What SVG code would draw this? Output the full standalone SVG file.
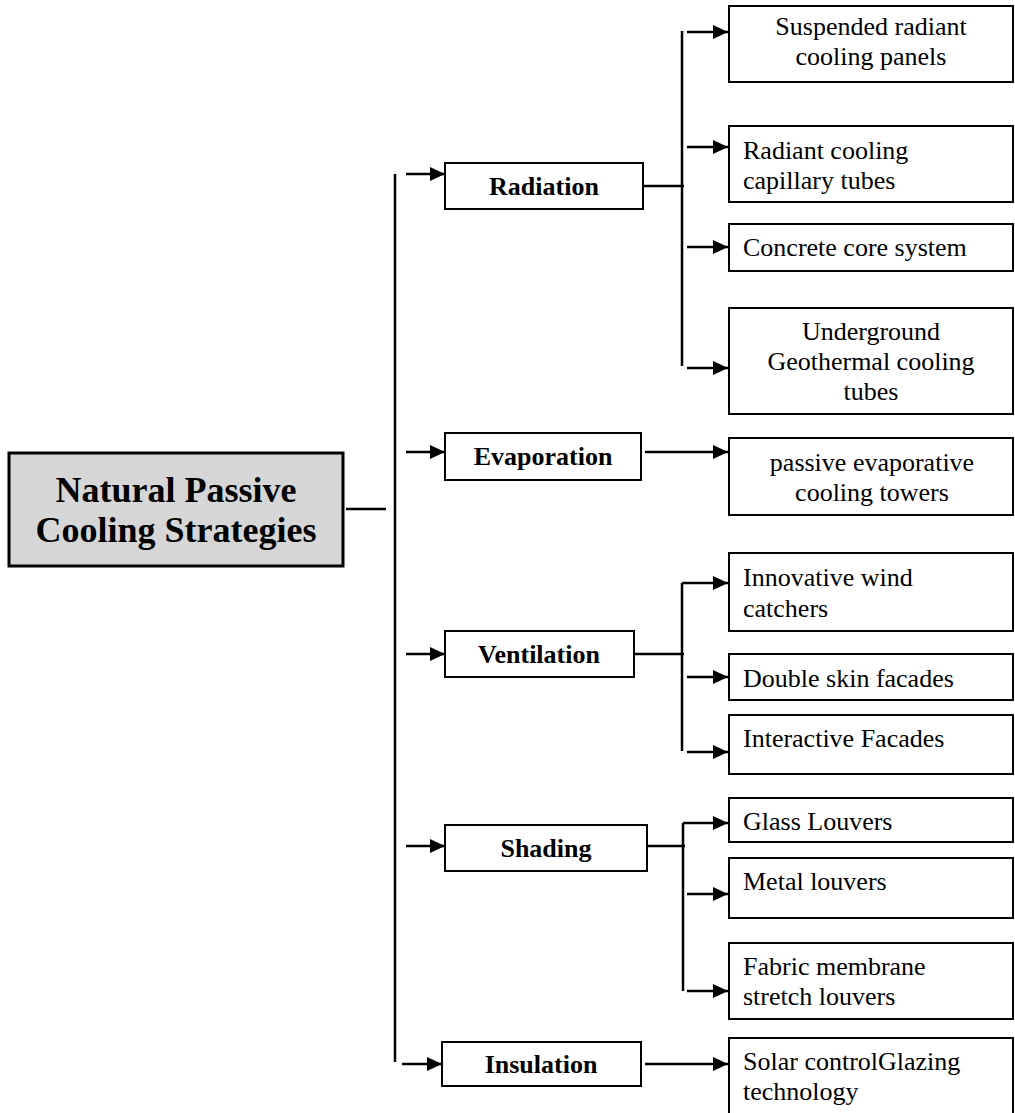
<svg xmlns="http://www.w3.org/2000/svg" width="1015" height="1113" viewBox="0 0 1015 1113">
<style>
.box{fill:#fff;stroke:#000;stroke-width:2}
.main{fill:#d6d6d6;stroke:#000;stroke-width:3}
.ln{stroke:#000;stroke-width:2.5;fill:none}
.t{font-family:"Liberation Serif","Times New Roman",serif;font-size:26px;fill:#000}
.b{font-weight:bold}
.c{text-anchor:middle}
.m{font-family:"Liberation Serif","Times New Roman",serif;font-size:36px;font-weight:bold;text-anchor:middle;fill:#000}
</style>
<defs>
<marker id="ah" markerUnits="userSpaceOnUse" markerWidth="16" markerHeight="14" refX="15" refY="7" orient="auto">
<path d="M0,0 L15,7 L0,14 z" fill="#000"/>
</marker>
</defs>
<rect width="1015" height="1113" fill="#fff"/>
<g id="connectors">
<line class="ln" x1="346" y1="509" x2="386" y2="509"/>
<line class="ln" x1="395" y1="174" x2="395" y2="1062"/>
<line class="ln" x1="406" y1="174" x2="445" y2="174" marker-end="url(#ah)"/>
<line class="ln" x1="406" y1="452" x2="445" y2="452" marker-end="url(#ah)"/>
<line class="ln" x1="406" y1="654" x2="445" y2="654" marker-end="url(#ah)"/>
<line class="ln" x1="406" y1="846" x2="445" y2="846" marker-end="url(#ah)"/>
<line class="ln" x1="402" y1="1064" x2="442" y2="1064" marker-end="url(#ah)"/>
<line class="ln" x1="643" y1="186" x2="684" y2="186"/>
<line class="ln" x1="682" y1="31" x2="682" y2="366"/>
<line class="ln" x1="687" y1="32" x2="728" y2="32" marker-end="url(#ah)"/>
<line class="ln" x1="687" y1="147" x2="728" y2="147" marker-end="url(#ah)"/>
<line class="ln" x1="687" y1="247" x2="728" y2="247" marker-end="url(#ah)"/>
<line class="ln" x1="687" y1="368" x2="728" y2="368" marker-end="url(#ah)"/>
<line class="ln" x1="645" y1="452" x2="728" y2="452" marker-end="url(#ah)"/>
<line class="ln" x1="634" y1="654" x2="684" y2="654"/>
<line class="ln" x1="682" y1="583" x2="682" y2="751"/>
<line class="ln" x1="682" y1="583" x2="728" y2="583" marker-end="url(#ah)"/>
<line class="ln" x1="687" y1="677" x2="728" y2="677" marker-end="url(#ah)"/>
<line class="ln" x1="687" y1="752" x2="728" y2="752" marker-end="url(#ah)"/>
<line class="ln" x1="647" y1="846" x2="685" y2="846"/>
<line class="ln" x1="683" y1="823" x2="683" y2="991"/>
<line class="ln" x1="683" y1="823" x2="728" y2="823" marker-end="url(#ah)"/>
<line class="ln" x1="687" y1="894" x2="728" y2="894" marker-end="url(#ah)"/>
<line class="ln" x1="687" y1="991" x2="728" y2="991" marker-end="url(#ah)"/>
<line class="ln" x1="645" y1="1064" x2="728" y2="1064" marker-end="url(#ah)"/>
</g>
<g id="main">
<rect class="main" x="9" y="453" width="334" height="113"/>
<text class="m" x="176" y="502">Natural Passive</text>
<text class="m" x="176" y="542">Cooling Strategies</text>
</g>
<g id="radiation">
<rect class="box" x="445" y="163" width="198" height="46"/>
<text class="t b c" x="544" y="195">Radiation</text>
</g>
<g id="evaporation">
<rect class="box" x="445" y="433" width="196" height="47"/>
<text class="t b c" x="543" y="465">Evaporation</text>
</g>
<g id="ventilation">
<rect class="box" x="445" y="631" width="189" height="46"/>
<text class="t b c" x="539" y="663">Ventilation</text>
</g>
<g id="shading">
<rect class="box" x="445" y="825" width="202" height="46"/>
<text class="t b c" x="546" y="857">Shading</text>
</g>
<g id="insulation">
<rect class="box" x="442" y="1042" width="199" height="44"/>
<text class="t b c" x="541" y="1073">Insulation</text>
</g>
<g id="suspended">
<rect class="box" x="729" y="6" width="284" height="76"/>
<text class="t c" x="871" y="35">Suspended radiant</text>
<text class="t c" x="871" y="65">cooling panels</text>
</g>
<g id="capillary">
<rect class="box" x="729" y="126" width="284" height="76"/>
<text class="t" x="743" y="159">Radiant cooling</text>
<text class="t" x="743" y="189">capillary tubes</text>
</g>
<g id="concrete">
<rect class="box" x="729" y="224" width="284" height="47"/>
<text class="t" x="743" y="256">Concrete core system</text>
</g>
<g id="underground">
<rect class="box" x="729" y="308" width="284" height="106"/>
<text class="t c" x="871" y="340">Underground</text>
<text class="t c" x="871" y="370">Geothermal cooling</text>
<text class="t c" x="871" y="400">tubes</text>
</g>
<g id="towers">
<rect class="box" x="729" y="438" width="284" height="77"/>
<text class="t c" x="872" y="471">passive evaporative</text>
<text class="t c" x="872" y="501">cooling towers</text>
</g>
<g id="windcatchers">
<rect class="box" x="729" y="553" width="284" height="78"/>
<text class="t" x="743" y="586">Innovative wind</text>
<text class="t" x="743" y="617">catchers</text>
</g>
<g id="doubleskin">
<rect class="box" x="729" y="654" width="284" height="46"/>
<text class="t" x="743" y="687">Double skin facades</text>
</g>
<g id="interactive">
<rect class="box" x="729" y="715" width="284" height="59"/>
<text class="t" x="743" y="747">Interactive Facades</text>
</g>
<g id="glass">
<rect class="box" x="729" y="798" width="284" height="44"/>
<text class="t" x="743" y="830">Glass Louvers</text>
</g>
<g id="metal">
<rect class="box" x="729" y="858" width="284" height="60"/>
<text class="t" x="743" y="890">Metal louvers</text>
</g>
<g id="fabric">
<rect class="box" x="729" y="943" width="284" height="76"/>
<text class="t" x="743" y="975">Fabric membrane</text>
<text class="t" x="743" y="1005">stretch louvers</text>
</g>
<g id="solar">
<rect class="box" x="729" y="1038" width="284" height="90"/>
<text class="t" x="743" y="1070">Solar controlGlazing</text>
<text class="t" x="743" y="1100">technology</text>
</g>
</svg>
